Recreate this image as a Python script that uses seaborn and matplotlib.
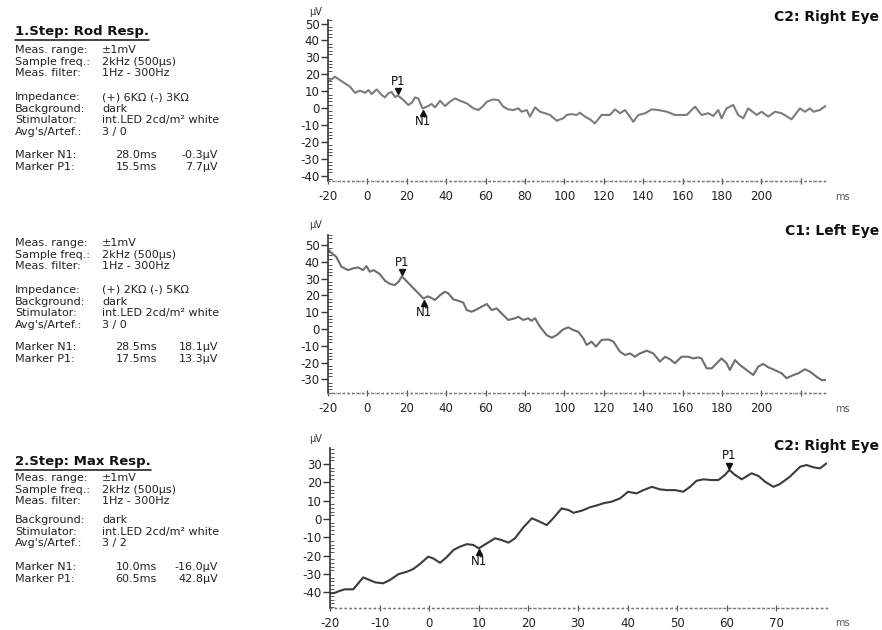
import matplotlib
matplotlib.use("Agg")
import matplotlib.pyplot as plt
import numpy as np
import pandas as pd
import seaborn as sns
from matplotlib.ticker import MultipleLocator
from matplotlib.transforms import offset_copy
from matplotlib.lines import Line2D

# ---------------- ERG traces (time in ms, amplitude in µV) ----------------
rod_right_ms = [-20, -16.4, -14, -8.8, -6.3, -3.8, -1.2, 0.5, 2.2, 4.7, 7.3, 8.9, 10.6, 12.3, 14.0,
                15.5, 18.3, 20.8, 22.5, 24.2, 25.8, 28.0, 30.9, 32.6, 34.3, 36.9, 39.4, 41.9, 44.5,
                47.0, 50.4, 53.8, 56.3, 58.8, 60.6, 63.9, 66.5, 69.0, 71.5, 74.1, 76.6, 78.3, 80.9,
                82.5, 85.1, 87.6, 90.2, 92.7, 96.1, 99.4, 101.2, 103.7, 106.2, 107.9, 110.5, 113.0,
                115.5, 118.9, 123.1, 125.7, 128.2, 130.8, 135.0, 137.6, 141.0, 144.3, 147.7, 152.0,
                156.1, 162.1, 166.3, 169.6, 173.0, 175.6, 178.1, 179.8, 182.3, 185.7, 188.2, 190.8,
                193.3, 197.6, 200.1, 203.5, 206.9, 210.3, 215.3, 219.6, 222.1, 224.7, 226.4, 229.7,
                232.6]
rod_right_uv = [15.6, 18.5, 16.6, 12.6, 9.0, 10.3, 9.0, 10.6, 8.3, 11.0, 7.7, 6.3, 8.7, 9.5, 6.5,
                7.4, 4.7, 1.8, 3.1, 6.3, 5.7, -0.3, 1.2, 2.4, 0.4, 4.3, 1.2, 3.7, 5.7,
                4.3, 2.8, -0.2, -1.2, 1.2, 3.7, 5.1, 4.7, 0.8, -0.8, -1.2, -0.2, -2.2, -1.2,
                -5.1, 0.4, -2.2, -3.1, -4.1, -7.5, -6.1, -4.1, -3.6, -4.1, -2.8, -5.1, -6.7,
                -9.1, -4.1, -4.1, -0.8, -3.1, -1.2, -8.1, -4.1, -3.1, -0.8, -1.2, -2.2,
                -4.1, -4.1, 0.8, -4.1, -3.1, -4.7, -1.2, -6.1, -0.2, 1.8, -4.1, -6.1,
                -0.2, -4.1, -2.2, -5.1, -2.2, -3.1, -6.7, -0.2, -2.2, -0.2, -2.2, -1.2,
                1.2]

rod_left_ms = [-20, -18.3, -15.8, -13.2, -9.8, -7.3, -4.7, -2.2, -0.5, 1.2, 3.2, 6.3, 8.9, 11.5,
               14.0, 16.0, 17.5, 28.5, 30.5, 32.0, 34.3, 36.9, 39.4, 41.1, 43.6, 46.2, 48.7, 50.4,
               52.9, 55.5, 58.0, 60.6, 63.1, 65.6, 69.0, 71.5, 74.9, 76.6, 79.1, 81.6, 83.3, 85.1,
               87.6, 91.0, 93.6, 96.1, 99.4, 102.0, 104.5, 107.0, 109.6, 111.3, 113.8, 116.0,
               118.9, 122.3, 124.9, 128.2, 130.8, 133.3, 135.8, 138.4, 141.8, 145.1, 148.5, 151.1,
               153.6, 156.1, 159.5, 162.9, 165.4, 168.0, 169.6, 172.2, 174.8, 177.3, 179.8, 182.3,
               184.0, 186.6, 189.1, 192.5, 195.9, 198.4, 200.9, 203.5, 206.0, 208.5, 210.3, 212.8,
               216.2, 218.7, 222.1, 224.7, 228.0, 230.6, 232.6]
rod_left_uv = [47.4, 45.4, 43.0, 37.1, 35.1, 36.1, 36.7, 35.1, 37.5, 34.1, 35.1, 32.7, 28.8, 26.8,
               26.2, 28.5, 31.4, 18.1, 19.5, 18.8, 17.3, 20.2, 22.2, 21.2, 17.7, 16.8, 15.7, 11.3,
               10.3, 11.7, 13.3, 14.9, 11.3, 12.3, 8.3, 5.4, 6.4, 7.3, 5.4, 6.4, 4.9, 6.4,
               1.4, -3.6, -5.2, -3.6, -0.2, 1.0, -0.6, -1.6, -5.5, -9.5, -7.5, -10.5,
               -6.5, -6.2, -7.5, -13.5, -15.5, -14.5, -16.5, -14.5, -12.9, -14.5, -19.4, -16.5,
               -18.0, -20.4, -16.5, -16.5, -17.5, -16.9, -17.5, -23.4, -23.4, -20.4, -17.5, -20.4,
               -24.4, -18.5, -21.4, -24.4, -27.4, -22.4, -20.8, -22.8, -24.0, -25.4, -26.4, -29.3,
               -27.4, -26.4, -24.0, -25.4, -28.4, -30.4, -30.4]

max_right_ms = [-20, -19, -18, -17, -15.3, -14.3, -13.3, -12.3, -10.9, -9.3, -7.9, -6.2, -4.5, -3.2,
                -1.9, -0.2, 0.8, 2.2, 3.5, 4.9, 6.2, 7.6, 8.9, 10.0, 11.6, 13.3, 14.6, 16.0, 17.3,
                19.0, 20.7, 22.0, 23.7, 25.0, 26.7, 28.1, 29.1, 30.7, 32.4, 34.1, 35.1, 36.8, 38.5,
                40.1, 41.8, 43.2, 44.9, 46.5, 47.9, 49.6, 51.2, 52.6, 53.9, 55.3, 56.9, 58.3, 59.6,
                60.5, 61.7, 63.0, 65.0, 66.4, 67.7, 69.4, 70.7, 72.7, 74.8, 76.1, 77.4, 78.8, 80.1]
max_right_uv = [-40.6, -40.3, -39.2, -38.4, -38.4, -35.1, -31.9, -33.0, -34.6, -35.1, -33.3, -30.1,
                -28.8, -27.3, -24.6, -20.6, -21.5, -23.9, -20.9, -16.9, -15.1, -13.7, -14.2, -16.0,
                -13.3, -10.5, -11.5, -12.9, -10.5, -4.5, 0.4, -1.1, -3.3, 0.4, 5.8, 4.9, 3.4, 4.5,
                6.4, 7.7, 8.6, 9.5, 11.3, 14.9, 14.0, 15.8, 17.6, 16.2, 15.8, 15.8, 14.9, 17.6,
                20.9, 21.7, 21.3, 21.3, 24.0, 26.8, 24.0, 21.7, 25.0, 23.5, 20.4, 17.6, 19.1,
                23.1, 28.6, 29.5, 28.3, 27.7, 30.4]

# Marker readouts: (time ms, amplitude µV); P1 amplitude is measured from N1
rod_right_n1 = (28.0, -0.3)
rod_right_p1 = (15.5, 7.7)
rod_left_n1 = (28.5, 18.1)
rod_left_p1 = (17.5, 13.3)
max_right_n1 = (10.0, -16.0)
max_right_p1 = (60.5, 42.8)

# Protocol parameters shown beside each recording
rod_right_info = [("Meas. range:", "±1mV"), ("Sample freq.:", "2kHz (500µs)"),
                  ("Meas. filter:", "1Hz - 300Hz")]
rod_right_setup = [("Impedance:", "(+) 6KΩ (-) 3KΩ"), ("Background:", "dark"),
                   ("Stimulator:", "int.LED 2cd/m² white"), ("Avg's/Artef.:", "3 / 0")]
rod_left_info = rod_right_info
rod_left_setup = [("Impedance:", "(+) 2KΩ (-) 5KΩ"), ("Background:", "dark"),
                  ("Stimulator:", "int.LED 2cd/m² white"), ("Avg's/Artef.:", "3 / 0")]
max_right_info = rod_right_info
max_right_setup = [("Background:", "dark"), ("Stimulator:", "int.LED 2cd/m² white"),
                   ("Avg's/Artef.:", "3 / 2")]

# Axis ticks
long_xticks = list(range(-20, 221, 20))
long_xlabels = [str(v) for v in range(-20, 201, 20)] + [""]
short_xticks = list(range(-20, 71, 10))
short_xlabels = [str(v) for v in short_xticks]

# ---------------- figure ----------------
sns.set_theme(style="white")
plt.rcParams["font.family"] = ["DejaVu Sans"]
plt.rcParams["axes.unicode_minus"] = False

W, H = 882, 630
fig = plt.figure(figsize=(W / 100, H / 100), dpi=100)
fig.patch.set_facecolor("white")


def fx(px):
    return px / W


def fy(py):
    return 1 - py / H


def add_axes_px(left, top, right, bottom):
    return fig.add_axes([fx(left), fy(bottom), (right - left) / W, (bottom - top) / H])


def draw_trace(ax, ms, uv, color, xlim, ylim, xticks, xlabels, yticks, xminor):
    df = pd.DataFrame({"ms": ms, "uV": uv})
    sns.lineplot(data=df, x="ms", y="uV", ax=ax, color=color, linewidth=1.5,
                 estimator=None, sort=False, solid_joinstyle="round",
                 solid_capstyle="round")
    ax.set_xlim(*xlim)
    ax.set_ylim(*ylim)
    ax.set_facecolor("none")
    ax.set_xlabel("")
    ax.set_ylabel("")
    for s in ("top", "right"):
        ax.spines[s].set_visible(False)
    ax.spines["left"].set_color("#333333")
    ax.spines["left"].set_linewidth(1.2)
    ax.spines["bottom"].set_color("#777777")
    ax.spines["bottom"].set_linewidth(1.0)
    ax.spines["bottom"].set_linestyle((0, (1, 2.5)))
    ax.set_yticks(yticks)
    ax.set_yticklabels([str(v) for v in yticks])
    ax.yaxis.set_minor_locator(MultipleLocator(2))
    ax.set_xticks(xticks)
    ax.set_xticklabels(xlabels)
    ax.xaxis.set_minor_locator(MultipleLocator(xminor))
    ax.tick_params(axis="y", which="major", direction="out", length=5, width=1.0,
                   color="#333333", pad=1, labelsize=8.5, labelcolor="#222222", left=True)
    ax.tick_params(axis="y", which="minor", direction="in", length=3, width=0.7,
                   color="#555555", left=True)
    ax.tick_params(axis="x", which="major", direction="inout", length=5, width=0.9,
                   color="#555555", pad=4, labelsize=8.5, labelcolor="#222222", bottom=True)
    ax.tick_params(axis="x", which="minor", direction="inout", length=1.5, width=0.6,
                   color="#aaaaaa", bottom=True)


def mark_peaks(ax, n1, p1):
    n1_t, n1_v = n1
    p1_t, p1_v = p1[0], n1[1] + p1[1]
    up = offset_copy(ax.transData, fig=fig, x=0, y=3, units="points")
    down = offset_copy(ax.transData, fig=fig, x=0, y=-3, units="points")
    ax.plot([p1_t], [p1_v], marker="v", markersize=5, color="#111111", transform=up, zorder=5)
    ax.plot([n1_t], [n1_v], marker="^", markersize=5, color="#111111", transform=down, zorder=5)
    ax.annotate("P1", xy=(p1_t, p1_v), xytext=(0, 5.5), textcoords="offset points",
                ha="center", va="bottom", fontsize=8.5, color="#111111")
    ax.annotate("N1", xy=(n1_t, n1_v), xytext=(0, -5), textcoords="offset points",
                ha="center", va="top", fontsize=8.5, color="#111111")


ax1 = add_axes_px(328, 20, 826, 181)
draw_trace(ax1, rod_right_ms, rod_right_uv, "#7c7c7c", (-20, 232.8), (-43.2, 52.1),
           long_xticks, long_xlabels, list(range(-40, 51, 10)), 2)
mark_peaks(ax1, rod_right_n1, rod_right_p1)

ax2 = add_axes_px(328, 235, 826, 393)
draw_trace(ax2, rod_left_ms, rod_left_uv, "#6e6e6e", (-20, 232.8), (-38.1, 56.0),
           long_xticks, long_xlabels, list(range(-30, 51, 10)), 2)
mark_peaks(ax2, rod_left_n1, rod_left_p1)

ax3 = add_axes_px(330, 448, 827, 608)
draw_trace(ax3, max_right_ms, max_right_uv, "#3c3c3c", (-20, 80.2), (-48.6, 38.8),
           short_xticks, short_xlabels, list(range(-40, 31, 10)), 1)
mark_peaks(ax3, max_right_n1, max_right_p1)

# channel titles and unit labels
for (y, label) in [(17, "C2: Right Eye"), (231, "C1: Left Eye"), (446, "C2: Right Eye")]:
    fig.text(fx(879), fy(y), label, fontsize=10, fontweight="bold", ha="right", va="center",
             color="#111111")
for y in (12, 225, 439):
    fig.text(fx(316), fy(y), "µV", fontsize=7, ha="center", va="center", color="#333333")
for y in (197, 409, 623):
    fig.text(fx(842), fy(y), "ms", fontsize=7, ha="center", va="center", color="#555555")

# left-hand protocol text
TXT = dict(fontsize=8, va="center", ha="left", color="#222222")
STEP = 11.6


def step_title(x, y, label):
    t = fig.text(fx(x), fy(y), label, fontsize=9.5, fontweight="bold", ha="left",
                 va="center", color="#111111")
    fig.canvas.draw()
    bb = t.get_window_extent()
    uy = fy(y + 8)
    fig.add_artist(Line2D([bb.x0 / W, bb.x1 / W], [uy, uy], color="#111111", linewidth=1.1))


def info_group(y0, rows):
    for i, (k, v) in enumerate(rows):
        y = y0 + i * STEP
        fig.text(fx(15), fy(y), k, **TXT)
        fig.text(fx(102), fy(y), v, **TXT)


def marker_group(y0, n1, p1):
    for i, (name, (t, a)) in enumerate([("Marker N1:", n1), ("Marker P1:", p1)]):
        y = y0 + i * STEP
        fig.text(fx(15), fy(y), name, **TXT)
        fig.text(fx(157), fy(y), f"{t:.1f}ms", fontsize=8, va="center", ha="right",
                 color="#222222")
        fig.text(fx(218), fy(y), f"{a:.1f}µV", fontsize=8, va="center", ha="right",
                 color="#222222")


step_title(15, 32, "1.Step: Rod Resp.")
info_group(50, rod_right_info)
info_group(97, rod_right_setup)
marker_group(155, rod_right_n1, rod_right_p1)

info_group(243, rod_left_info)
info_group(290, rod_left_setup)
marker_group(347, rod_left_n1, rod_left_p1)

step_title(15, 462, "2.Step: Max Resp.")
info_group(478, max_right_info)
info_group(520, max_right_setup)
marker_group(567, max_right_n1, max_right_p1)

fig.savefig("out.png", dpi=100, facecolor="white")
